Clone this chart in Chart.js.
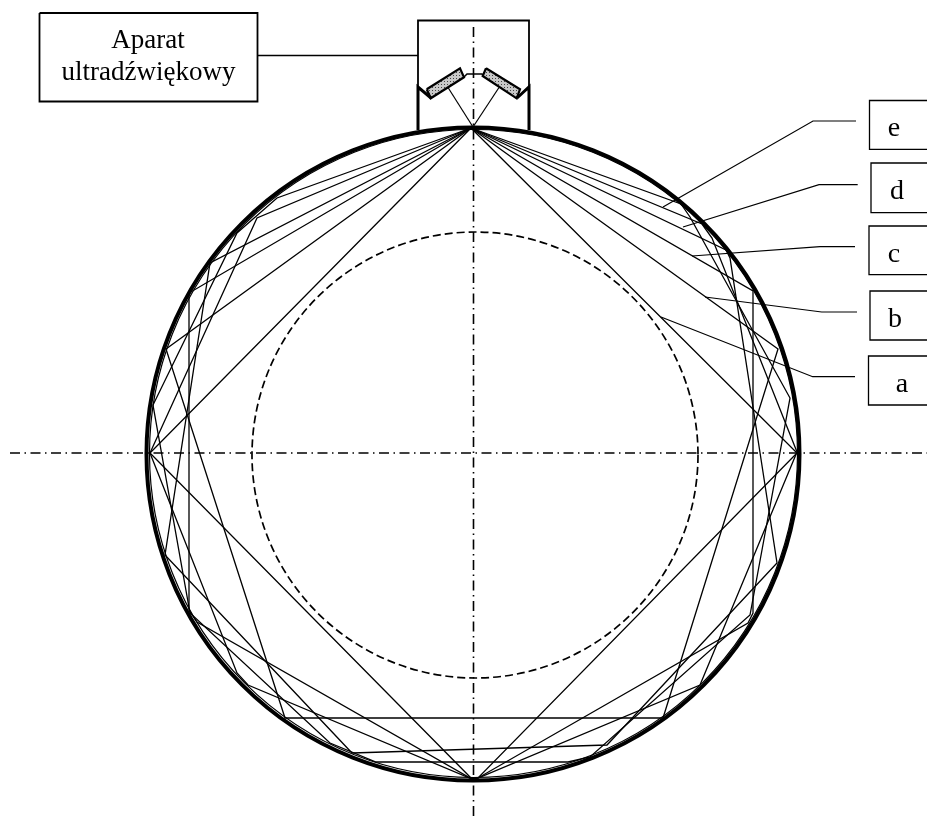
<!DOCTYPE html>
<html>
<head>
<meta charset="utf-8">
<title>Aparat ultradźwiękowy</title>
<script src="https://cdn.jsdelivr.net/npm/chart.js@4"></script>
<style>
  html, body { margin: 0; padding: 0; background: #fff; overflow: hidden; }
  canvas { display: block; }
</style>
</head>
<body>
<canvas id="chart" width="927" height="816"></canvas>
<script>
const square = [[471,128],[797,453],[478,778],[472,779],[150,453],[471,128]];
const pentagon = [[471,128],[778,349],[663,718],[285,718],[166,349],[471,128]];
const hexagon = [[471,128],[753,291],[753,613],[748,623],[478,778],[472,779],[197,622],[189,610],[189,293],[471,128]];
const heptagon = [[471,128],[726,250],[730,258],[777,563],[607,745],[352,753],[165,555],[210,263],[471,128]];
const octagon = [[471,128],[702,224],[712,238],[797,452],[700,685],[478,778],[472,779],[248,685],[237,673],[150,453],[257,218],[471,128]];
const nonagon = [[471,128],[681,204],[690,217],[790,398],[750,615],[590,757],[568,762],[376,762],[330,743],[190,613],[153,405],[237,233],[277,198],[471,128]];

const axisH = [[10,453],[927,453]];
const axisV = [[473.5,27],[473.5,816]];

const outerCircle = [[473,454]];
const innerCircle = [[473.5,453.5]];
const dashedCircle = [[475,455]];

const apparatusBox = [[39.5,13],[257.5,13],[257.5,101.5],[39.5,101.5],[39.5,13]];
const apparatusLead = [[258,55.5],[418,55.5]];
const housingTop = [[418,87],[418,20.5],[529,20.5],[529,87]];
const housingLeft = [[431,98],[418,87],[418,130]];
const housingRight = [[517,98],[529,87],[529,130]];
const probeLeft = [[426.7,89.3],[460,68.3],[464,77.3],[430.7,98.3],[426.7,89.3]];
const probeRight = [[486,68.3],[520,89.3],[516.7,98.3],[482.7,76],[486,68.3]];
const probeBridge = [[464,77],[467,74],[482,74],[483.5,76]];
const beamLeft = [[448,87.5],[473,127]];
const beamRight = [[499,87.5],[473,127]];

const boxE = [[927,100.5],[869.5,100.5],[869.5,149.3],[927,149.3]];
const boxD = [[927,163],[871,163],[871,212.7],[927,212.7]];
const boxC = [[927,226],[869,226],[869,274.7],[927,274.7]];
const boxB = [[927,291],[870,291],[870,340],[927,340]];
const boxA = [[927,356],[868.5,356],[868.5,405],[927,405]];

const leadE = [[663,207],[813,121],[856,121]];
const leadD = [[683,227],[819,184.7],[857.7,184.7]];
const leadC = [[692,256],[820,246.7],[855,246.7]];
const leadB = [[705,297],[821.7,312],[857,312]];
const leadA = [[661,317],[812.7,376.7],[855,376.7]];

const texts = ["Aparat", "ultradźwiękowy", "e", "d", "c", "b", "a"];
const textX = [148, 148.5, 894, 897, 894, 895, 902];
const textY = [48, 80, 136, 199, 262, 327, 392];
const textSize = [27, 27, 28, 28, 28, 28, 28];

function line(data, width, extra) {
  return Object.assign({
    data: data,
    showLine: true,
    borderColor: "#000",
    borderWidth: width,
    pointRadius: 0,
    tension: 0,
    fill: false
  }, extra || {});
}

function circle(data, radius, width, dash) {
  return {
    data: data,
    showLine: false,
    clip: false,
    pointStyle: "circle",
    pointRadius: radius,
    pointBorderColor: "#000",
    pointBackgroundColor: "rgba(0,0,0,0)",
    pointBorderWidth: width,
    circleDash: dash || []
  };
}

// little tile for the dotted probes
function probePattern() {
  const tile = document.createElement("canvas");
  tile.width = 3;
  tile.height = 3;
  const c = tile.getContext("2d");
  c.fillStyle = "#c8c8c8";
  c.fillRect(0, 0, 3, 3);
  c.fillStyle = "#444";
  c.fillRect(0, 0, 1, 1);
  return c.createPattern(tile, "repeat");
}

const axisDash = [10, 4.5, 1.5, 4.5];
const pattern = probePattern();

const circleDashPlugin = {
  id: "circleDash",
  beforeDatasetDraw(chart, args) {
    const dash = chart.data.datasets[args.index].circleDash;
    if (dash) chart.ctx.setLineDash(dash);
  },
  afterDatasetDraw(chart) {
    chart.ctx.setLineDash([]);
  }
};

const textPlugin = {
  id: "drawingText",
  afterDraw(chart) {
    const ctx = chart.ctx;
    ctx.save();
    ctx.fillStyle = "#000";
    ctx.textAlign = "center";
    ctx.textBaseline = "alphabetic";
    texts.forEach((t, i) => {
      ctx.font = textSize[i] + 'px "Liberation Serif"';
      ctx.fillText(t, chart.scales.x.getPixelForValue(textX[i]), chart.scales.y.getPixelForValue(textY[i]));
    });
    ctx.restore();
  }
};

new Chart(document.getElementById("chart").getContext("2d"), {
  type: "scatter",
  data: {
    datasets: [
      circle(outerCircle, 326.5, 4),
      circle(innerCircle, 324, 1.2),
      circle(dashedCircle, 223, 1.7, [8, 4]),
      line(axisH, 1.6, { borderDash: axisDash }),
      line(axisV, 1.6, { borderDash: axisDash }),
      line(square, 1.3),
      line(pentagon, 1.3),
      line(hexagon, 1.3),
      line(heptagon, 1.3),
      line(octagon, 1.3),
      line(nonagon, 1.3),
      line(apparatusBox, 1.8),
      line(apparatusLead, 1.4),
      line(housingTop, 1.8),
      line(housingLeft, 3),
      line(housingRight, 3),
      line(probeLeft, 2.2, { fill: "shape", backgroundColor: pattern }),
      line(probeRight, 2.2, { fill: "shape", backgroundColor: pattern }),
      line(probeBridge, 1.5),
      line(beamLeft, 1.2),
      line(beamRight, 1.2),
      line(boxE, 1.3),
      line(boxD, 1.3),
      line(boxC, 1.3),
      line(boxB, 1.3),
      line(boxA, 1.3),
      line(leadE, 1.2),
      line(leadD, 1.2),
      line(leadC, 1.2),
      line(leadB, 1.2),
      line(leadA, 1.2)
    ]
  },
  options: {
    responsive: false,
    animation: false,
    events: [],
    layout: { padding: 0, autoPadding: false },
    plugins: { legend: { display: false }, tooltip: { enabled: false }, title: { display: false } },
    scales: {
      x: { type: "linear", display: false, min: 0, max: 927 },
      y: { type: "linear", display: false, min: 0, max: 816, reverse: true }
    }
  },
  plugins: [circleDashPlugin, textPlugin]
});
</script>
</body>
</html>
